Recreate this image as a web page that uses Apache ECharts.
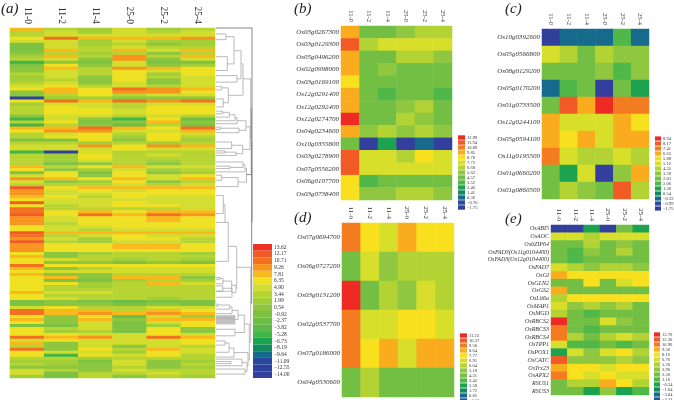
<!DOCTYPE html>
<html>
<head>
<meta charset="utf-8">
<style>
html,body{margin:0;padding:0;background:#fff;}
#main{width:674px;height:400px;}
</style>
<script src="https://cdn.jsdelivr.net/npm/echarts@6/dist/echarts.min.js"></script>
</head>
<body>
<div id="main"></div>
<script>
var timePoints = ['11-0','11-2','11-4','25-0','25-2','25-4'];

// legend tick labels, top to bottom
var ticksA = [13.62,12.17,10.71,9.26,7.81,6.35,4.90,3.44,1.99,0.54,-0.92,-2.37,-3.82,-5.28,-6.73,-8.19,-9.64,-11.09,-12.55,-14.00];
var ticksB = [12.99,11.94,10.89,9.85,8.78,7.73,6.68,5.62,4.57,3.52,2.46,1.41,0.36,-0.70,-1.75];
var ticksC = [8.94,8.17,7.41,6.65,5.88,5.12,4.35,3.59,2.83,2.06,1.30,0.54,-0.22,-0.99,-1.75];
var ticksD = [11.23,10.37,9.50,8.64,7.77,6.91,6.04,5.18,4.31,3.45,2.58,1.72,0.85,-0.01,-0.88];
var ticksE = [13.76,12.36,10.96,9.56,8.16,6.76,5.36,3.96,2.56,1.16,-0.24,-1.64,-3.04,-4.44,-5.84];

// panel a, one line per row
var rowsA = [
[7.8,3.5,2,5.5,2.5,3.5],[3.4,5,2,5.5,4,4.5],[3.4,4.9,4.9,5,5,5],[6.3,10.7,7.8,8,8,9],[5,5,2,5,2,2.5],
[-0.5,4.5,1.5,3.5,1,1.5],[-0.5,5,4,5,4,4],[-0.5,8,4,8,5,8],[0,4,2,4,0.5,3],[2,7.5,3,9.5,3,7.5],
[3,5,0.5,9,1,5],[-5,1,-1,5,-1.5,-1],[-1.5,7,0.5,5.5,1,2],[0,7.5,3,9.5,7.8,6],[0,5.5,4,7,5.5,6],
[3,5.5,3.5,6,2,6],[2,5.5,1,6.3,4,5.5],[2,3,0,6,0,5],[3.4,5,1,5.5,1,5],[4.5,6.3,3,5,4,5],
[6,8,7,10,9,7.8],[0,8,6.5,9.5,9,7],[0,3,6,4,5.5,5.5],[-13,2,2,0.5,0.5,1],[6,10,8.5,10,9,10],
[2.5,4.5,5,3,5,5],[3,6,5,4,6,6],[3.5,6,6,5,6,6],[4,6,6,5.5,6.3,6],[1,5,5,3,5,4],
[-5,5,1,-6,6,-3],[3,6,-1,1,8,1],[-5,4,0,-3,4,-1],[8,8.5,10,7.5,6.5,10.5],[6,9,9,5,5.5,8],
[3.4,5,6.5,3,6.5,5],[4,6,7,2,6.5,3.4],[-1,-0.5,6.5,1,6.3,2],[4,4,2,3,2,3],[4.5,4.5,9.5,6,9.5,7.5],
[4.5,4.5,5,6,5.5,5],[-5,-12,5,3,4,3.4],[3,2,6,3,5,3.4],[3,2,6,3,4,3.4],[3,2,5,3.5,2.5,3.4],
[4,-0.5,1,3,1,3],[8,4,6,8,5,5.5],[6,1,2,5,2,3],[-1,6,-0.5,6,0,2],[5,6,0,6,5.5,6],
[9.5,7.8,7,8.5,5,8],[5,0,2,7,1,4],[4,3,4,5,4,5],[12,7,7.8,7.8,7.8,7.8],[9.5,5,6.5,5.5,6.3,6],
[9.5,5,5,6,6,6],[8,6,4,6,5,5],[6,5,5.5,5,5.5,5],[12,4.5,5,6,5,5],[6,4,5,6,6,5],
[10.7,3,4,3,4,5],[10.7,6,7.8,6,8,8],[12.2,6,10,8,10.7,9.5],[9.5,5,6,6,8,6],[9.5,4.5,6,6,7.5,6],
[9.5,4,6,6,6.5,6],[6.5,5,5.5,6,6,6],[6,5,3,5.5,5.5,5.5],[11.5,7.8,8,8.5,8,8],[10.5,4,5,6,5.5,5],
[9.5,5.5,2.5,6,6,3],[12.5,3,2.5,5.5,5,3],[9.5,6,6,7.8,8,6],[9.5,6,6,8.5,8.5,6],[9.5,6,6,7,7,6],
[6,1,1.5,3.5,4,1.5],[8.5,0.5,3,4,4,4],[6,5,3,2,4,2],[6,0,1,-1,0,-1],[11,6,6,6,6,6],
[7.8,1,4,5,5,5],[6,5,5,5,5,5],[7.8,0,1,3,3,3],[7,7.5,1,7.5,8.5,1],[6,-1,-1,2,3,2.5],
[6,7,2,3,7.8,5],[6,3.5,2.5,3.4,3.4,3.4],[6,3.5,4,3.4,3.4,3.4],[8.5,5,5.5,3.4,3.4,3.4],[6,3,3,4,3,4],
[6.5,5,3.5,3.5,2.5,3],[-1,1,-1,-2,-1,-1],[-1,0,0,-1,0,-1],[5,6,4,3,5,5],[10,8,8.5,3.5,7.8,6],
[10,7.8,9,8,9.5,8],[6,0,6,-2,5,2],[8,1,8,0,8,8],[6,0,5,-1.5,5,6],[-0.5,-1,5,-1.5,2,6],
[6,3,4.5,-1.5,6.5,0],[6,2,4,-1.5,6.5,0],[7,6,5,5,6.5,5],[11,8,9.5,5.5,10,7.8],[5,7,5,5.5,5.5,6.5],
[7.8,1,5,5.5,5,6],[3,0.5,5,0,4.5,4],[10,0,7,4,8,5],[6.5,5,5.5,2,6,5],[7,-6,6,5,6,4],
[3,3,2,4,3,4],[2,2,-0.5,5,1,2],[3,2.5,0,5,1,3],[1,0.5,0,4,0,1.5],[5,4,1,5,4,4],
[5,-0.5,3.4,4,4.5,3.4],[2,-1,3,1,3,2]
];

// dendrogram of panel a: [height top, row top, height bottom, row bottom, merge height]
var dendroBrackets = [
[0,2,0,3.9,10],[0,9.6,0,14.2,11.3],[10,2.9,11.3,12,18],[0,15.9,0,18.1,21],[18,7.6,21,17,25],
[0,19.6,0,20.7,5.7],[0,23.7,0,26.4,7.3],[5.7,20,7.3,25,12.3],[25,12,12.3,22.5,27],
[0,27.8,0,28.7,6.7],[6.7,28.2,0,29.8,13.3],[13.3,29,0,31,19],[19,30,0,32,21],[0,33.1,0,34,4],
[4,33.5,0,35,23],[21,31,23,34.2,30],[0,38.1,0,40.3,15.7],[0,41.1,0,41.8,9],[9,41.5,0,42.6,20],
[15.7,39.2,20,42,26.7],[30,33,26.7,40.6,34],[27,17,34,37,34.7],
[0,46.2,0,47,14],[14,46.6,0,44.8,27],[27,45.7,0,48.1,29],[0,49.2,0,50.9,5.7],[5.7,50,0,53,22],
[29,47,22,51.5,30.5],[0,56,0,62,7.3],[7.3,59,0,65,9],[9,65,0,78,12.3],
[0,83.4,0,84,4],[4,83.7,0,85.5,7],[7,84.6,0,88,15.7],[0,86.2,0,88,6.7],[6.7,87,0,90,16],
[15.7,86,16,88.5,20],[12.3,73,20,87,20.7],
[0,92.3,0,93,2],[2,92.6,0,94,13.7],[13.7,93.3,0,95.5,16],
[0,96.2,0,96.5,19],[0,96.8,0,97.1,19],[0,97.4,0,97.7,19],[0,98,0,98.3,19],[0,98.6,0,98.9,19],
[16,94.4,19,97.5,22],[0,100.7,0,102.9,19],[19,101.8,22,96,28.3],
[0,104.6,0,106,9],[9,105.3,0,108.4,13],[13,107,0,110,18],[0,110.7,0,112.9,26],[0,111.5,0,112.2,15],
[0,114,0,115.7,29],[26,111.8,29,114.8,31],[18,108.5,31,113,32],[28.3,99,32,111,33.3],[20.7,80,33.3,105,34.7]
];
var dendroTrunk = [
[34.7,27,30.5,49,35.3],[35.3,38,34.7,92,35.7],[0,0,35.7,65,36]
];

var genesB = ['Os03g0267300','Os03g0129300','Os05g0496200','Os02g0998000','Os03g0169100','Os12g0291400','Os12g0292400','Os12g0274700','Os04g0234600','Os10g0355800','Os03g0278900','Os07g0556200','Os06g0107700','Os03g0738400'];
var rowsB = [
[9.85,5,5,5.3,6.4,6.4],[11.94,6.68,7.73,7.73,7.73,7.73],[9.85,4.57,4.9,6.5,6.5,5.2],[9.85,4.57,5.2,4.57,5,4.57],
[8.78,4.57,4.57,4.57,5,4.57],[9.85,4.57,3.52,4.57,4.57,3.52],[9.85,4.57,4.57,5.3,6.68,4.8],[12.99,4.57,4.57,6.68,5.4,4.7],
[9.85,5.3,6.68,5.3,6.4,5.3],[4.9,-1.5,2.46,-1.6,0.36,-1.6],[11.94,7.73,7.73,6.68,8.78,7.73],[11.94,7.73,7.73,7.73,7.73,7.73],
[8.78,3.52,4.57,4.57,4.57,4.57],[8.78,5.5,5.5,6.5,6.5,5.3]
];

var genesC = ['Os10g0392600','Os05g0566800','Os08g0129200','Os05g0170200','Os01g0733500','Os12g0244100','Os05g0594100','Os11g0195500','Os01g0660200','Os01g0860500'];
var rowsC = [
[-1.75,-0.22,-0.22,-0.22,2.06,-0.22],[5.12,4.35,2.83,4.35,3.3,3.3],[3,3,3,3.3,2.06,3.3],[-0.22,2.06,2.83,-1.5,2.6,1.3],
[2.83,8.17,6.65,8.94,7.41,7.41],[6.65,5.12,5.12,5.12,6.65,5.88],[6.65,5.88,6.65,5.12,6.65,6.65],[7.41,5.12,4.35,4.35,5.12,4.35],
[2.83,1.3,5.12,-1.5,3.59,6.65],[2.83,4.35,3.3,2.83,8.17,4.35]
];

var genesD = ['Os07g0694700','Os06g0727200','Os03g0131200','Os02g0537700','Os07g0186000','Os04g0530600'];
var rowsD = [
[9.5,7.77,6.91,8.64,7.77,7.77],[4.31,6.91,4.8,6.04,6.04,6.04],[11.23,4.31,6.04,5,6.91,6.04],
[9.5,6.91,6.91,7.77,7.77,6.91],[9.5,7.77,8.64,6.91,8.64,8.64],[4.31,6,4.31,4.7,4.7,4.7]
];

var genesE = ['OsABI5','OsAOC','OsbZIP64','OsFAD3(Os11g0104400)','OsFAD3(Os12g0104400)','OsFAD7','OsGI','OsGLN2','OsGS2','OsLti6a','OsMAP1','OsMGD','OsRBCS2','OsRBCS3','OsRBCS4','OsTPP1','OsPOX1','OsCATC','OsTrx23','OsAPX2','RSUS1','RSUS3'];
var rowsE = [
[-5.8,-5.8,-0.2,-5.8,2,-0.5],[6.76,6.76,5.8,6.76,6.5,6.5],[2.56,2.56,5,3,3.4,3],[2.2,1.8,3.5,2.56,5,3],
[2,1.2,3,2,3,2.2],[6.5,5.2,4,5,5,3.8],[9.56,8.16,8.16,8.16,8.16,8.16],[2.2,2,8,2.5,6.5,7.5],
[9.56,2.2,2.56,3,2.5,2.5],[5,8.16,8.16,8.16,8.16,8.16],[6.5,3.5,5,3.4,5,3],[5,3,1.8,3.2,2,2.2],
[13.76,3,3,6.5,4.5,3],[10.96,2.6,1.8,3,2.6,2],[10.96,5,3,4.8,6.5,5],[6.5,1.8,1.8,2,1.8,2],
[-0.2,6.5,4.5,6.5,7.8,6],[12.36,3.6,4.5,3.3,6,4.5],[9.56,8.16,8.16,7.2,8.16,8],[10.96,8.16,6.76,8.16,6.5,6.5],
[2.5,6,6,9.3,8,6],[2.5,3,-0.5,3.5,-0.5,1.5]
];

var colors20 = ['#ee3124','#f15a24','#f37021','#f7941e','#f9b81c','#efe022','#d3dd2e','#b7d433','#a2ce38','#8dc63f','#7dc242','#6cbe45','#5bba47','#3fb54a','#1ba551','#138a5e','#166a8c','#27489f','#2d429f','#323f9d'];
var colors15 = ['#ee2a24','#f15a24','#f47c20','#f9ac1d','#f8e01f','#d7df2a','#b3d335','#8fc740','#72bf44','#4fb848','#1da350','#118a5e','#166a8c','#2d4a9f','#323f9d'];
var serif = '"Liberation Serif","DejaVu Serif",serif';

var option = {
	animation:false,
	backgroundColor:'#fff',
	title:[],
	grid:[],
	xAxis:[],
	yAxis:[],
	visualMap:[],
	series:[]
};

function panelLabel(txt,x,y){
	option.title.push({text:txt,left:x,top:y,padding:0,textStyle:{fontFamily:serif,fontStyle:'italic',fontWeight:'normal',fontSize:15,color:'#222'}});
}

// one heat map with its own grid, axes and stepped legend
function addHeat(rows,genes,ticks,palette,box,legend){
	var g = option.grid.length;
	var s = option.series.length;
	var rowNames = genes || rows.map(function(r,i){return ''+i;});
	var data = [];
	rows.forEach(function(row,i){
		row.forEach(function(v,j){ data.push([j,i,v]); });
	});
	option.grid.push({left:box.x,top:box.y,width:box.w,height:box.h,containLabel:false});
	option.xAxis.push({type:'category',gridIndex:g,position:'top',data:timePoints,
		axisLine:{show:false},axisTick:{show:false},splitLine:{show:false},
		axisLabel:{rotate:90,interval:0,margin:4,fontFamily:serif,fontSize:box.tf,color:'#333'}});
	option.yAxis.push({type:'category',gridIndex:g,inverse:true,data:rowNames,
		axisLine:{show:false},axisTick:{show:false},splitLine:{show:false},
		axisLabel:{show:!!genes,interval:0,margin:2,fontFamily:serif,fontStyle:'italic',fontSize:box.lf||7,color:'#333'}});
	option.series.push({type:'heatmap',xAxisIndex:g,yAxisIndex:g,data:data,progressive:0,silent:true,
		itemStyle:{borderWidth:0},emphasis:{disabled:true}});
	var step = (ticks[0]-ticks[ticks.length-1])/(ticks.length-1);
	var pieces = ticks.map(function(t,i){
		return {min:t-step/2,max:t+step/2,label:t.toFixed(2).replace('-','\u2212'),color:palette[i]};
	});
	pieces[0].max = 999;
	pieces[pieces.length-1].min = -999;
	option.visualMap.push({type:'piecewise',seriesIndex:s,dimension:2,orient:'vertical',align:'left',
		left:legend.x,top:legend.y,itemWidth:legend.w,itemHeight:legend.h,itemGap:0,textGap:2,padding:0,
		itemSymbol:'rect',selectedMode:false,hoverLink:false,showLabel:true,
		textStyle:{fontFamily:serif,fontSize:legend.f,color:'#333'},
		pieces:pieces.slice().reverse()});
}

// dendrogram goes through its own hidden value axes
function addDendro(list,color,width,g){
	option.series.push({type:'custom',xAxisIndex:g,yAxisIndex:g,data:list,silent:true,clip:false,
		encode:{x:[0,2,4],y:[1,3]},
		renderItem:function(params,api){
			var a = api.coord([api.value(0),api.value(1)]);
			var b = api.coord([api.value(4),api.value(1)]);
			var c = api.coord([api.value(4),api.value(3)]);
			var d = api.coord([api.value(2),api.value(3)]);
			return {type:'polyline',shape:{points:[a,b,c,d]},style:{fill:null,stroke:color,lineWidth:width}};
		}});
}

panelLabel('(a)',1,2);
panelLabel('(b)',294,2);
panelLabel('(c)',505,2);
panelLabel('(d)',294,211);
panelLabel('(e)',505,212);

addHeat(rowsA,null,ticksA,colors20,{x:10,y:28,w:205,h:350,tf:9.5},{x:253,y:244,w:19,h:6.7,f:5.5});
addHeat(rowsB,genesB,ticksB,colors15,{x:341,y:26,w:111,h:174,tf:6.5},{x:458,y:135,w:7,h:4.4,f:4.5});
addHeat(rowsC,genesC,ticksC,colors15,{x:542,y:29,w:107,h:170,tf:6.5},{x:655,y:136,w:6,h:4.2,f:4.5});
addHeat(rowsD,genesD,ticksD,colors15,{x:342,y:223,w:112,h:174,tf:7},{x:460,y:333,w:7,h:4.3,f:4.5});
addHeat(rowsE,genesE,ticksE,colors15,{x:551,y:225,w:98,h:170,tf:7,lf:6},{x:654,y:332,w:6,h:4.3,f:4.5});

// grid for the dendrogram
var dg = option.grid.length;
option.grid.push({left:216,top:28,width:36,height:350});
option.xAxis.push({type:'value',gridIndex:dg,min:0,max:36,show:false});
option.yAxis.push({type:'value',gridIndex:dg,min:0,max:117,inverse:true,show:false});
addDendro(dendroBrackets,'#a8a8a8',0.8,dg);
addDendro(dendroTrunk,'#888888',1,dg);

var chart = echarts.init(document.getElementById('main'),null,{renderer:'canvas'});
chart.setOption(option);
</script>
</body>
</html>
